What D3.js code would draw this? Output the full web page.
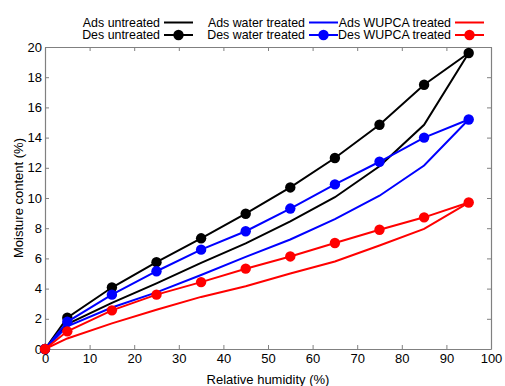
<!DOCTYPE html>
<html>
<head>
<meta charset="utf-8">
<script src="https://cdn.jsdelivr.net/npm/d3@7"></script>
<style>
  body { margin: 0; background: #fff; }
  text { font-family: "Liberation Sans", Arial, sans-serif; fill: #000; }
</style>
</head>
<body>
<div id="chart"></div>
<script>
var rh = [0, 5, 15, 25, 35, 45, 55, 65, 75, 85, 95];

var adsUntreated = [0, 1.65, 3.05, 4.35, 5.7, 7.0, 8.45, 10.05, 12.1, 14.85, 19.6];
var desUntreated = [0, 2.07, 4.07, 5.75, 7.33, 8.96, 10.7, 12.65, 14.85, 17.5, 19.6];
var adsWater = [0, 1.5, 2.75, 3.75, 4.9, 6.1, 7.25, 8.6, 10.15, 12.15, 15.2];
var desWater = [0, 1.8, 3.6, 5.15, 6.58, 7.8, 9.3, 10.9, 12.4, 14.0, 15.2];
var adsWupca = [0, 0.7, 1.7, 2.6, 3.45, 4.15, 5.0, 5.8, 6.85, 7.95, 9.7];
var desWupca = [0, 1.17, 2.56, 3.6, 4.43, 5.32, 6.13, 7.02, 7.9, 8.72, 9.7];

var xTicks = [0, 10, 20, 30, 40, 50, 60, 70, 80, 90, 100];
var yTicks = [0, 2, 4, 6, 8, 10, 12, 14, 16, 18, 20];

var series = [
  { name: "Ads untreated", values: adsUntreated, color: "#000", marker: false },
  { name: "Des untreated", values: desUntreated, color: "#000", marker: true },
  { name: "Ads water treated", values: adsWater, color: "#0000ff", marker: false },
  { name: "Des water treated", values: desWater, color: "#0000ff", marker: true },
  { name: "Ads WUPCA treated", values: adsWupca, color: "#ff0000", marker: false },
  { name: "Des WUPCA treated", values: desWupca, color: "#ff0000", marker: true }
];

var width = 505, height = 386,
    mLeft = 45, mRight = 491, mTop = 47, mBottom = 349;

var svg = d3.select("#chart").append("svg")
    .attr("width", width)
    .attr("height", height);

var x = d3.scaleLinear().domain([0, 100]).range([mLeft, mRight]);
var y = d3.scaleLinear().domain([0, 20]).range([mBottom, mTop]);

var frame = "#808080";

// axes, ticks pointing inward on all four sides
svg.append("g")
    .attr("transform", "translate(0," + mBottom + ")")
    .call(d3.axisBottom(x).tickValues(xTicks).tickSizeInner(-4).tickSizeOuter(0).tickPadding(5))
    .call(function(g) { g.selectAll("text").attr("font-size", 13); });
svg.append("g")
    .attr("transform", "translate(0," + mTop + ")")
    .call(d3.axisTop(x).tickValues(xTicks).tickSizeInner(-4).tickSizeOuter(0).tickFormat(""));
svg.append("g")
    .attr("transform", "translate(" + mLeft + ",0)")
    .call(d3.axisLeft(y).tickValues(yTicks).tickSizeInner(-4).tickSizeOuter(0).tickPadding(3))
    .call(function(g) { g.selectAll("text").attr("font-size", 13); });
svg.append("g")
    .attr("transform", "translate(" + mRight + ",0)")
    .call(d3.axisRight(y).tickValues(yTicks).tickSizeInner(-4).tickSizeOuter(0).tickFormat(""));

svg.selectAll(".domain").attr("stroke", frame).attr("stroke-width", 1.2);
svg.selectAll(".tick line").attr("stroke", frame);
svg.selectAll(".tick text").attr("fill", "#000").attr("font-family", "Liberation Sans, Arial, sans-serif");

var line = d3.line()
    .x(function(d, i) { return x(rh[i]); })
    .y(function(d) { return y(d); });

series.forEach(function(s) {
  svg.append("path")
      .datum(s.values)
      .attr("d", line)
      .attr("fill", "none")
      .attr("stroke", s.color)
      .attr("stroke-width", 2);
  if (s.marker) {
    svg.selectAll(null)
        .data(s.values)
        .enter()
        .append("circle")
        .attr("cx", function(d, i) { return x(rh[i]); })
        .attr("cy", function(d) { return y(d); })
        .attr("r", 5.2)
        .attr("fill", s.color);
  }
});

// legend: 3 columns, 2 rows
var legCols = [160, 305, 451];
var legRows = [22.5, 35];
series.forEach(function(s, i) {
  var cx = legCols[Math.floor(i / 2)], cy = legRows[i % 2];
  svg.append("text")
      .attr("x", cx)
      .attr("y", cy)
      .attr("dy", "0.35em")
      .attr("text-anchor", "end")
      .attr("font-size", 12.4)
      .text(s.name);
  svg.append("line")
      .attr("x1", cx + 4).attr("x2", cx + 33)
      .attr("y1", cy).attr("y2", cy)
      .attr("stroke", s.color)
      .attr("stroke-width", 2);
  if (s.marker) {
    svg.append("circle")
        .attr("cx", cx + 18.5).attr("cy", cy)
        .attr("r", 5.2)
        .attr("fill", s.color);
  }
});

svg.append("text")
    .attr("x", (mLeft + mRight) / 2)
    .attr("y", 379)
    .attr("dy", "0.35em")
    .attr("text-anchor", "middle")
    .attr("font-size", 13)
    .text("Relative humidity (%)");

svg.append("text")
    .attr("transform", "translate(18," + ((mTop + mBottom) / 2) + ") rotate(-90)")
    .attr("dy", "0.35em")
    .attr("text-anchor", "middle")
    .attr("font-size", 13)
    .text("Moisture content (%)");
</script>
</body>
</html>
